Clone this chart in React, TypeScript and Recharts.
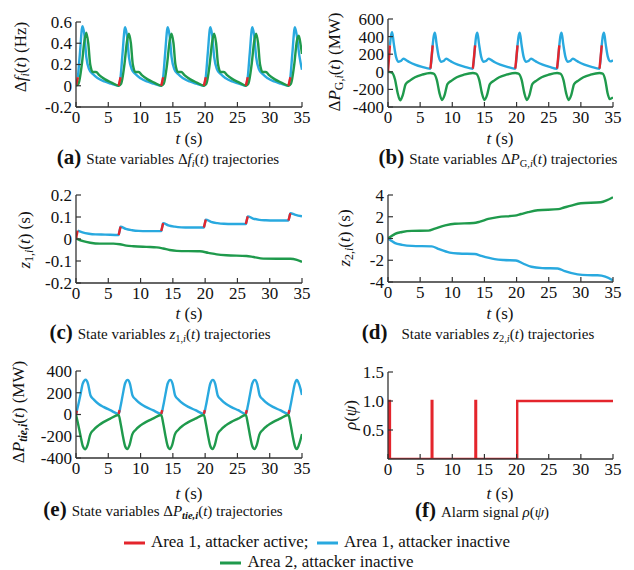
import React from 'react';
import { LineChart, Line, XAxis, YAxis } from 'recharts';

type Pt = [number, number | null];

const BLUE = '#29a9df';
const GREEN = '#1f9a4c';
const RED = '#e4252c';
const FONT = '"Liberation Serif", "Times New Roman", Times, "DejaVu Serif", serif';

const timeTicks = [0, 5, 10, 15, 20, 25, 30, 35];

// (a) frequency deviation, Hz
const freqArea1: Pt[] = [
  [0.3, 0.08], [0.6, 0.3], [1.0, 0.56], [1.3, 0.48], [1.6, 0.27], [2.0, 0.16], [2.6, 0.11], [3.4, 0.07], [4.4, 0.04], [5.4, 0.02], [6.6, 0.0],
  [6.9, 0.08], [7.2, 0.3], [7.6, 0.55], [7.9, 0.47], [8.2, 0.27], [8.6, 0.16], [9.2, 0.11], [10.0, 0.07], [11.0, 0.04], [12.0, 0.02], [13.2, 0.0],
  [13.5, 0.08], [13.8, 0.3], [14.2, 0.55], [14.5, 0.47], [14.8, 0.27], [15.2, 0.16], [15.8, 0.11], [16.6, 0.07], [17.6, 0.04], [18.6, 0.02], [19.8, 0.0],
  [20.1, 0.08], [20.4, 0.3], [20.8, 0.55], [21.1, 0.47], [21.4, 0.27], [21.8, 0.16], [22.4, 0.11], [23.2, 0.07], [24.2, 0.04], [25.2, 0.02], [26.3, 0.0],
  [26.6, 0.08], [26.9, 0.3], [27.3, 0.55], [27.6, 0.47], [27.9, 0.27], [28.3, 0.16], [28.9, 0.11], [29.7, 0.07], [30.7, 0.04], [31.7, 0.02], [32.9, 0.0],
  [33.2, 0.08], [33.5, 0.3], [33.9, 0.55], [34.2, 0.47], [34.6, 0.28], [35.0, 0.15],
];
const freqArea2: Pt[] = [
  [0, 0], [0.4, 0.02], [0.9, 0.2], [1.3, 0.42], [1.6, 0.5], [1.9, 0.4], [2.2, 0.2], [2.6, 0.13], [3.1, 0.13], [3.6, 0.1], [4.5, 0.06], [5.5, 0.03], [6.6, 0.0],
  [7.0, 0.02], [7.5, 0.2], [7.9, 0.42], [8.2, 0.49], [8.5, 0.4], [8.8, 0.2], [9.2, 0.13], [9.7, 0.13], [10.2, 0.1], [11.1, 0.06], [12.1, 0.03], [13.2, 0.0],
  [13.6, 0.02], [14.1, 0.2], [14.5, 0.42], [14.8, 0.49], [15.1, 0.4], [15.4, 0.2], [15.8, 0.13], [16.3, 0.13], [16.8, 0.1], [17.7, 0.06], [18.7, 0.03], [19.8, 0.0],
  [20.2, 0.02], [20.7, 0.2], [21.1, 0.42], [21.4, 0.49], [21.7, 0.4], [22.0, 0.2], [22.4, 0.13], [22.9, 0.13], [23.4, 0.1], [24.3, 0.06], [25.3, 0.03], [26.3, 0.0],
  [26.7, 0.02], [27.2, 0.2], [27.6, 0.42], [27.9, 0.49], [28.2, 0.4], [28.5, 0.2], [28.9, 0.13], [29.4, 0.13], [29.9, 0.1], [30.8, 0.06], [31.8, 0.03], [32.9, 0.0],
  [33.3, 0.02], [33.8, 0.2], [34.2, 0.42], [34.5, 0.47], [34.8, 0.38], [35.0, 0.3],
];
const freqAttack: Pt[] = [
  [0, 0], [0.3, 0.08], [0.3, null],
  [6.6, 0], [6.9, 0.08], [6.9, null],
  [13.2, 0], [13.5, 0.08], [13.5, null],
  [19.8, 0], [20.1, 0.08], [20.1, null],
  [26.3, 0], [26.6, 0.08], [26.6, null],
  [32.9, 0], [33.2, 0.08],
];

// (b) generator power deviation, MW
const genArea1: Pt[] = [
  [0.3, 300], [0.45, 400], [0.65, 450], [0.9, 320], [1.25, 170], [1.65, 115], [2.0, 122], [2.4, 150], [2.8, 135], [3.3, 112], [4.2, 82], [5.3, 56], [6.6, 35],
  [6.95, 300], [7.1, 400], [7.3, 445], [7.55, 320], [7.9, 170], [8.3, 115], [8.65, 122], [9.05, 150], [9.45, 135], [9.95, 112], [10.85, 82], [11.95, 56], [13.2, 35],
  [13.55, 300], [13.7, 400], [13.9, 445], [14.15, 320], [14.5, 170], [14.9, 115], [15.25, 122], [15.65, 150], [16.05, 135], [16.55, 112], [17.45, 82], [18.55, 56], [19.8, 35],
  [20.15, 300], [20.3, 400], [20.5, 445], [20.75, 320], [21.1, 170], [21.5, 115], [21.85, 122], [22.25, 150], [22.65, 135], [23.15, 112], [24.05, 82], [25.15, 56], [26.3, 35],
  [26.65, 300], [26.8, 400], [27.0, 445], [27.25, 320], [27.6, 170], [28.0, 115], [28.35, 122], [28.75, 150], [29.15, 135], [29.65, 112], [30.55, 82], [31.65, 56], [32.9, 35],
  [33.25, 300], [33.4, 400], [33.6, 445], [33.85, 320], [34.2, 170], [34.6, 118], [35.0, 130],
];
const genArea2: Pt[] = [
  [0, 0], [0.6, -10], [1.1, -90], [1.5, -240], [1.9, -325], [2.3, -265], [2.75, -140], [3.4, -100], [4.2, -62], [5.3, -33], [6.6, -14],
  [7.1, -20], [7.6, -95], [8.0, -240], [8.4, -320], [8.8, -265], [9.25, -140], [9.9, -100], [10.7, -62], [11.8, -33], [13.2, -14],
  [13.7, -20], [14.2, -95], [14.6, -240], [15.0, -320], [15.4, -265], [15.85, -140], [16.5, -100], [17.3, -62], [18.4, -33], [19.8, -14],
  [20.3, -20], [20.8, -95], [21.2, -240], [21.6, -320], [22.0, -265], [22.45, -140], [23.1, -100], [23.9, -62], [25.0, -33], [26.3, -14],
  [26.8, -20], [27.3, -95], [27.7, -240], [28.1, -320], [28.5, -265], [28.95, -140], [29.6, -100], [30.4, -62], [31.5, -33], [32.9, -14],
  [33.4, -20], [33.8, -95], [34.15, -240], [34.5, -310], [35.0, -290],
];
const genAttack: Pt[] = [
  [0, 0], [0.3, 300], [0.3, null],
  [6.6, 35], [6.95, 300], [6.95, null],
  [13.2, 35], [13.55, 300], [13.55, null],
  [19.8, 35], [20.15, 300], [20.15, null],
  [26.3, 35], [26.65, 300], [26.65, null],
  [32.9, 35], [33.25, 300],
];

// (c) z1 state, s
const z1Area1: Pt[] = [
  [0.25, 0.038], [1.0, 0.03], [2.0, 0.024], [3.0, 0.021], [4.5, 0.02], [6.6, 0.018],
  [6.9, 0.056], [7.7, 0.046], [8.7, 0.04], [9.7, 0.037], [11.0, 0.036], [13.2, 0.036],
  [13.5, 0.072], [14.3, 0.062], [15.3, 0.056], [16.3, 0.053], [17.6, 0.052], [19.8, 0.052],
  [20.1, 0.088], [20.9, 0.078], [21.9, 0.072], [22.9, 0.069], [24.2, 0.068], [26.3, 0.068],
  [26.6, 0.103], [27.4, 0.093], [28.4, 0.087], [29.4, 0.085], [30.7, 0.084], [32.9, 0.084],
  [33.2, 0.117], [34.0, 0.11], [35.0, 0.103],
];
const z1Area2: Pt[] = [
  [0, 0.003], [1.1, -0.01], [2.2, -0.017], [3.7, -0.021], [5.8, -0.021], [6.8, -0.024], [7.8, -0.03], [8.9, -0.033],
  [10.9, -0.036], [12.5, -0.038], [13.5, -0.043], [14.5, -0.05], [15.6, -0.054], [19.2, -0.056], [20.5, -0.063],
  [21.8, -0.07], [23.3, -0.074], [26.4, -0.077], [27.5, -0.082], [29.0, -0.089], [33.2, -0.09], [34.2, -0.095], [35.0, -0.104],
];
const z1Attack: Pt[] = [
  [0, 0.0], [0.25, 0.038], [0.25, null],
  [6.6, 0.018], [6.9, 0.056], [6.9, null],
  [13.2, 0.036], [13.5, 0.072], [13.5, null],
  [19.8, 0.052], [20.1, 0.088], [20.1, null],
  [26.3, 0.068], [26.6, 0.103], [26.6, null],
  [32.9, 0.084], [33.2, 0.117],
];

// (d) z2 state, s
const z2Area1: Pt[] = [
  [0, 0], [0.5, -0.2], [1.1, -0.42], [2.2, -0.58], [3.7, -0.68], [6.8, -0.72], [7.8, -0.95], [9.6, -1.3], [11.0, -1.38],
  [13.5, -1.42], [14.5, -1.6], [16.6, -1.9], [18.0, -1.98], [19.9, -2.02], [21.0, -2.3], [22.3, -2.6], [24.0, -2.72],
  [26.4, -2.76], [27.5, -3.0], [29.5, -3.3], [31.0, -3.37], [32.6, -3.38], [33.8, -3.5], [35.0, -3.85],
];
const z2Area2: Pt[] = [
  [0, 0], [0.5, 0.2], [1.1, 0.43], [2.2, 0.6], [3.7, 0.7], [6.3, 0.72], [7.3, 0.9], [8.9, 1.2], [10.4, 1.36],
  [13.3, 1.42], [14.3, 1.55], [15.6, 1.8], [17.1, 1.97], [19.7, 2.1], [20.7, 2.25], [21.8, 2.42], [23.3, 2.6],
  [26.5, 2.7], [27.4, 2.85], [28.5, 3.03], [30.0, 3.24], [33.1, 3.33], [34.0, 3.5], [35.0, 3.8],
];

// (e) tie-line power deviation, MW
const tieArea1: Pt[] = [
  [0, 0], [0.3, 75], [0.7, 185], [1.05, 285], [1.5, 320], [1.85, 285], [2.25, 175], [2.8, 135], [3.5, 97], [4.25, 70], [5.3, 40], [6.6, 6],
  [6.9, 75], [7.25, 185], [7.6, 285], [8.0, 318], [8.35, 285], [8.75, 175], [9.3, 135], [10.05, 97], [10.8, 70], [11.9, 40], [13.2, 6],
  [13.5, 75], [13.85, 185], [14.2, 285], [14.6, 318], [14.95, 285], [15.35, 175], [15.9, 135], [16.65, 97], [17.4, 70], [18.5, 40], [19.8, 6],
  [20.1, 75], [20.45, 185], [20.8, 285], [21.2, 318], [21.55, 285], [21.95, 175], [22.5, 135], [23.25, 97], [24.0, 70], [25.1, 40], [26.3, 6],
  [26.6, 75], [26.95, 185], [27.3, 285], [27.7, 318], [28.05, 285], [28.45, 175], [29.0, 135], [29.75, 97], [30.5, 70], [31.6, 40], [32.9, 6],
  [33.2, 75], [33.55, 185], [33.9, 285], [34.2, 318], [34.6, 270], [35.0, 180],
];
const tieArea2: Pt[] = [
  [0, 0], [0.3, -80], [0.7, -195], [1.05, -290], [1.45, -320], [1.8, -280], [2.2, -185], [2.75, -140], [3.5, -100], [4.25, -70], [5.3, -38], [6.6, -4],
  [6.9, -80], [7.25, -195], [7.6, -290], [7.95, -318], [8.3, -280], [8.7, -185], [9.25, -140], [10.0, -100], [10.8, -70], [11.9, -38], [13.2, -4],
  [13.5, -80], [13.85, -195], [14.2, -290], [14.55, -318], [14.9, -280], [15.3, -185], [15.85, -140], [16.6, -100], [17.4, -70], [18.5, -38], [19.8, -4],
  [20.1, -80], [20.45, -195], [20.8, -290], [21.15, -318], [21.5, -280], [21.9, -185], [22.45, -140], [23.2, -100], [24.0, -70], [25.1, -38], [26.3, -4],
  [26.6, -80], [26.95, -195], [27.3, -290], [27.65, -318], [28.0, -280], [28.4, -185], [28.95, -140], [29.7, -100], [30.5, -70], [31.6, -38], [32.9, -4],
  [33.2, -80], [33.55, -195], [33.9, -290], [34.2, -318], [34.6, -265], [35.0, -180],
];
const tieAttack: Pt[] = [
  [0, 0], [0.15, 35], [0.15, null],
  [6.6, 6], [6.75, 40], [6.75, null],
  [13.2, 6], [13.35, 40], [13.35, null],
  [19.8, 6], [19.95, 40], [19.95, null],
  [26.3, 6], [26.45, 40], [26.45, null],
  [32.9, 6], [33.05, 40],
];

// (f) alarm signal
const alarm: Pt[] = [
  [0.1, 0], [0.1, 1], [0.3, 1], [0.3, 0], [6.8, 0], [6.8, 1], [6.9, 1], [6.9, 0],
  [13.6, 0], [13.6, 1], [13.7, 1], [13.7, 0], [20.1, 0], [20.1, 1], [35, 1],
];

const ML = 58;
const MT = 14;
const MR = 16;
const MB = 30;
const TICK_FS = 17;
const AXIS = { stroke: '#333', strokeWidth: 1.3 };

const XTick = (p: any) => (
  <g>
    <line x1={p.x} x2={p.x} y1={p.y - 4} y2={p.y - 9} stroke="#333" strokeWidth={1.2} />
    <text x={p.x} y={p.y} dy="0.71em" textAnchor="middle" fontFamily={FONT} fontSize={TICK_FS} fill="#111">
      {p.payload.value}
    </text>
  </g>
);

const YTick = (p: any) => (
  <g>
    <line x1={p.x + 4} x2={p.x + 9} y1={p.y} y2={p.y} stroke="#333" strokeWidth={1.2} />
    <text x={p.x} y={p.y} dy="0.35em" textAnchor="end" fontFamily={FONT} fontSize={TICK_FS} fill="#111">
      {p.fmt(p.payload.value)}
    </text>
  </g>
);

type Series = { pts: Pt[]; color: string; curve?: 'monotone' | 'linear' };

const Panel = ({ x, y, w, h, yDomain, yTicks, fmt = (v: number) => String(v), series }: {
  x: number; y: number; w: number; h: number; yDomain: number[]; yTicks: number[];
  fmt?: (v: number) => string; series: Series[];
}) => (
  <div style={{ position: 'absolute', left: x - ML, top: y - MT }}>
    <LineChart width={ML + w + MR} height={MT + h + MB} margin={{ top: MT, right: MR, bottom: 0, left: 0 }}>
      <XAxis
        type="number" dataKey="t" domain={[0, 35]} ticks={timeTicks} interval={0} height={MB}
        tickSize={0} tickMargin={4} tickLine={false} axisLine={AXIS} tick={XTick} allowDataOverflow
      />
      <YAxis
        type="number" domain={yDomain} ticks={yTicks} interval={0} width={ML}
        tickSize={0} tickMargin={4} tickLine={false} axisLine={AXIS}
        tick={(p: any) => <YTick {...p} fmt={fmt} />} allowDataOverflow
      />
      {series.map((s, i) => (
        <Line
          key={i}
          data={s.pts.map(([t, v]) => ({ t, v }))}
          dataKey="v"
          type={s.curve ?? 'monotone'}
          stroke={s.color}
          strokeWidth={2.4}
          dot={false}
          activeDot={false}
          isAnimationActive={false}
        />
      ))}
    </LineChart>
  </div>
);

const VLabel = ({ x, y, children }: { x: number; y: number; children: React.ReactNode }) => (
  <div style={{
    position: 'absolute', left: x, top: y, transform: 'translate(-50%, -50%) rotate(-90deg)',
    whiteSpace: 'nowrap', fontSize: 17, lineHeight: 1,
  }}>
    {children}
  </div>
);

const TLabel = ({ x, y }: { x: number; y: number }) => (
  <div style={{ position: 'absolute', left: x, top: y, transform: 'translate(-50%, -50%)', fontSize: 17, lineHeight: 1, whiteSpace: 'nowrap' }}>
    <i>t</i> (s)
  </div>
);

// captions are centred on the reference caption centres
const Caption = ({ x, y, tag, gap = 5, children }: { x: number; y: number; tag: string; gap?: number; children: React.ReactNode }) => (
  <div style={{ position: 'absolute', left: x, top: y, transform: 'translate(-50%, -50%)', whiteSpace: 'nowrap', fontSize: 15, lineHeight: 1 }}>
    <b style={{ fontSize: 21, marginRight: gap }}>({tag})</b>
    {children}
  </div>
);

const sub = { fontSize: '0.7em', verticalAlign: '-0.3em' };

const Swatch = ({ color }: { color: string }) => (
  <span style={{ display: 'inline-block', width: 21, height: 3, background: color, verticalAlign: 'middle', marginRight: 6 }} />
);

export default function App() {
  return (
    <div style={{ position: 'absolute', left: 0, top: 0, width: 634, height: 570, background: '#fff', fontFamily: FONT, color: '#111' }}>
      <Panel x={76} y={22} w={226} h={85} yDomain={[-0.2, 0.6]} yTicks={[-0.2, 0, 0.2, 0.4, 0.6]}
        series={[{ pts: freqArea1, color: BLUE }, { pts: freqArea2, color: GREEN }, { pts: freqAttack, color: RED }]} />
      <Panel x={388} y={19} w={225} h={88} yDomain={[-400, 600]} yTicks={[-400, -200, 0, 200, 400, 600]}
        series={[{ pts: genArea1, color: BLUE }, { pts: genArea2, color: GREEN }, { pts: genAttack, color: RED }]} />
      <Panel x={76} y={195} w={226} h={88} yDomain={[-0.2, 0.2]} yTicks={[-0.2, -0.1, 0, 0.1, 0.2]}
        series={[{ pts: z1Area1, color: BLUE }, { pts: z1Area2, color: GREEN }, { pts: z1Attack, color: RED }]} />
      <Panel x={388} y={195} w={225} h={87} yDomain={[-4, 4]} yTicks={[-4, -2, 0, 2, 4]}
        series={[{ pts: z2Area1, color: BLUE }, { pts: z2Area2, color: GREEN }]} />
      <Panel x={76} y={371} w={226} h={87} yDomain={[-400, 400]} yTicks={[-400, -200, 0, 200, 400]}
        series={[{ pts: tieArea1, color: BLUE }, { pts: tieArea2, color: GREEN }, { pts: tieAttack, color: RED }]} />
      <Panel x={388} y={372} w={225} h={87} yDomain={[0, 1.5]} yTicks={[0.5, 1, 1.5]} fmt={(v) => v.toFixed(1)}
        series={[{ pts: alarm, color: RED, curve: 'linear' }]} />

      <VLabel x={22} y={57}>Δ<i>f</i><span style={sub}><i>i</i></span>(<i>t</i>) (Hz)</VLabel>
      <VLabel x={336} y={62}>Δ<i>P</i><span style={sub}>G,<i>i</i></span>(<i>t</i>) (MW)</VLabel>
      <VLabel x={26} y={240}><i>z</i><span style={sub}>1,<i>i</i></span>(<i>t</i>) (s)</VLabel>
      <VLabel x={346} y={238}><i>z</i><span style={sub}>2,<i>i</i></span>(<i>t</i>) (s)</VLabel>
      <VLabel x={20} y={412}>Δ<i>P</i><span style={sub}><b><i>tie,i</i></b></span>(<i>t</i>) (MW)</VLabel>
      <VLabel x={350} y={415}><i>ρ</i>(<i>ψ</i>)</VLabel>

      <TLabel x={189} y={138} />
      <TLabel x={500} y={138} />
      <TLabel x={189} y={313} />
      <TLabel x={500} y={313} />
      <TLabel x={189} y={493} />
      <TLabel x={500} y={493} />

      <Caption x={168} y={158} tag="a">State variables Δ<i>f</i><span style={sub}><i>i</i></span>(<i>t</i>) trajectories</Caption>
      <Caption x={498} y={158} tag="b">State variables Δ<i>P</i><span style={sub}>G,<i>i</i></span>(<i>t</i>) trajectories</Caption>
      <Caption x={160} y={333} tag="c">State variables <i>z</i><span style={sub}>1,<i>i</i></span>(<i>t</i>) trajectories</Caption>
      <Caption x={478} y={333} tag="d" gap={14}>State variables <i>z</i><span style={sub}>2,<i>i</i></span>(<i>t</i>) trajectories</Caption>
      <Caption x={163} y={510} tag="e">State variables Δ<i>P</i><span style={sub}><b><i>tie,i</i></b></span>(<i>t</i>) trajectories</Caption>
      <Caption x={482} y={510} tag="f">Alarm signal <i>ρ</i>(<i>ψ</i>)</Caption>

      <div style={{ position: 'absolute', left: 0, width: 634, top: 541, transform: 'translateY(-50%)', textAlign: 'center', fontSize: 17, lineHeight: 1, whiteSpace: 'nowrap' }}>
        <Swatch color={RED} />Area 1, attacker active;&nbsp; <Swatch color={BLUE} />Area 1, attacker inactive
      </div>
      <div style={{ position: 'absolute', left: 0, width: 634, top: 561, transform: 'translateY(-50%)', textAlign: 'center', fontSize: 17, lineHeight: 1, whiteSpace: 'nowrap' }}>
        <Swatch color={GREEN} />Area 2, attacker inactive
      </div>
    </div>
  );
}
